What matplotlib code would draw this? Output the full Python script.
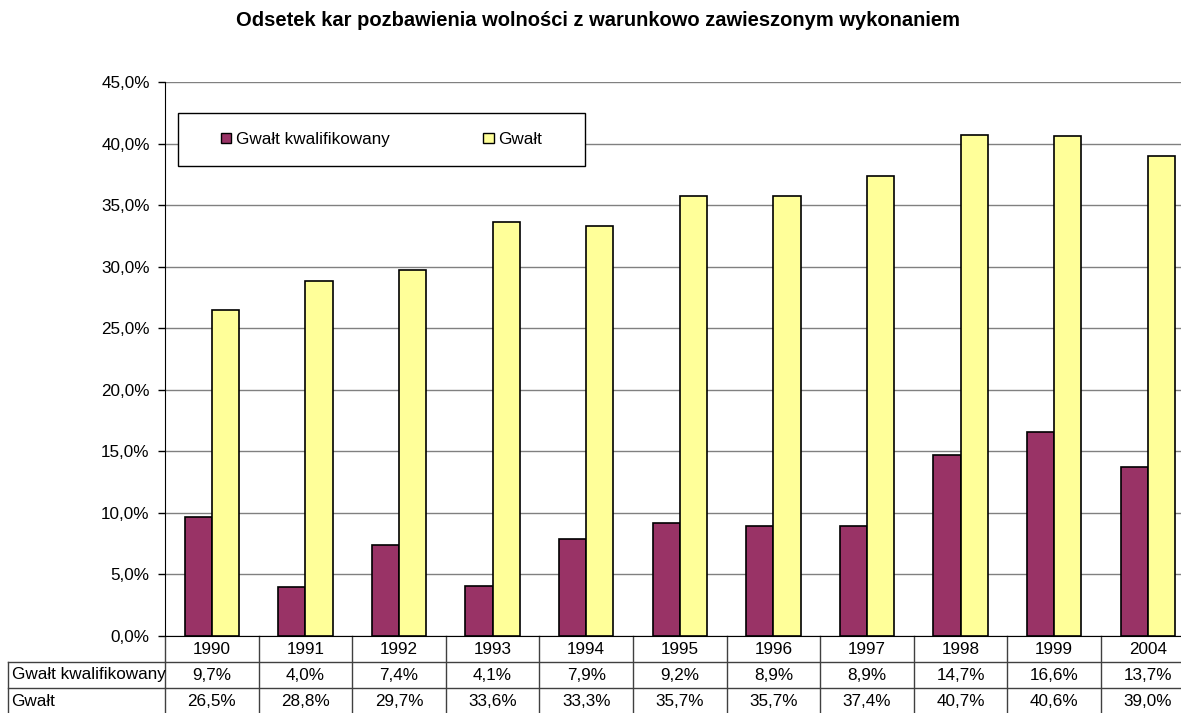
import matplotlib
matplotlib.use("Agg")
import matplotlib.pyplot as plt
import numpy as np
from matplotlib.transforms import blended_transform_factory
from matplotlib.lines import Line2D
from matplotlib.patches import Rectangle, Patch
from matplotlib.ticker import FuncFormatter, MultipleLocator

plt.rcParams['font.family'] = ['Liberation Sans', 'DejaVu Sans']

title = "Odsetek kar pozbawienia wolności z warunkowo zawieszonym wykonaniem"
years = ["1990", "1991", "1992", "1993", "1994", "1995", "1996", "1997", "1998", "1999", "2004"]
series_names = ["Gwałt kwalifikowany", "Gwałt"]
kwalifikowany = [9.7, 4.0, 7.4, 4.1, 7.9, 9.2, 8.9, 8.9, 14.7, 16.6, 13.7]
gwalt = [26.5, 28.8, 29.7, 33.6, 33.3, 35.7, 35.7, 37.4, 40.7, 40.6, 39.0]
colors = ["#993366", "#FFFF99"]

W, H = 1181, 713
fig = plt.figure(figsize=(W / 100, H / 100), dpi=100)

def fx(px):
    return px / W

def fy(py):
    return 1 - py / H

ax_left, ax_right, ax_top, ax_bot = 165, 1194.6, 82, 636
ax = fig.add_axes([fx(ax_left), fy(ax_bot), fx(ax_right - ax_left), (ax_bot - ax_top) / H])

x = np.arange(len(years))
bw = 0.29
ax.bar(x - bw / 2, kwalifikowany, width=bw, color=colors[0], edgecolor="black", linewidth=1.2, zorder=3)
ax.bar(x + bw / 2, gwalt, width=bw, color=colors[1], edgecolor="black", linewidth=1.2, zorder=3)

ax.set_xlim(-0.5, len(years) - 0.5)
ax.set_ylim(0, 45)
ax.yaxis.set_major_locator(MultipleLocator(5))
ax.yaxis.set_major_formatter(FuncFormatter(lambda v, p: f"{v:.1f}%".replace(".", ",")))
ax.grid(axis="y", color="#808080", linewidth=1, zorder=0)
ax.set_xticks([])
ax.tick_params(axis="y", direction="out", length=5, width=1, labelsize=12.3, pad=6)
for s in ["top", "right"]:
    ax.spines[s].set_visible(False)
ax.spines["left"].set_color("black")
ax.spines["bottom"].set_color("black")

# title
fig.text(fx(598), fy(21), title, ha="center", va="center", fontsize=14.5, fontweight="bold")

# legend with manual frame
lx0, lx1, ly0, ly1 = 178, 585, 113, 166
fig.add_artist(Rectangle((fx(lx0), fy(ly1)), fx(lx1 - lx0), (ly1 - ly0) / H,
                         transform=fig.transFigure, facecolor="white", edgecolor="black",
                         linewidth=1, zorder=5))
handles = [Patch(facecolor=c, edgecolor="black", linewidth=1) for c in colors]
leg = fig.legend(handles, series_names, loc="center", bbox_to_anchor=(fx((lx0 + lx1) / 2), fy((ly0 + ly1) / 2)),
                 ncol=2, frameon=False, fontsize=12.3, handlelength=0.6, handleheight=0.6,
                 handletextpad=0.25, columnspacing=5.5, borderpad=0)
leg.set_zorder(6)

# data table
trans = blended_transform_factory(ax.transData, fig.transFigure)
line_c = "#404040"
row_edges = [636, 662, 688, 714]
def hline(x0, x1, py, tr=trans):
    ax.add_line(Line2D([x0, x1], [fy(py), fy(py)], transform=tr, color=line_c, lw=1, clip_on=False))

for i in range(len(years) + 1):
    xb = i - 0.5
    ax.add_line(Line2D([xb, xb], [fy(636), fy(714)], transform=trans, color=line_c, lw=1, clip_on=False))
hline(-0.5, len(years) - 0.5, 662)
hline(-0.5, len(years) - 0.5, 688)
# row-label box
fig.add_artist(Line2D([fx(8), fx(165)], [fy(662), fy(662)], transform=fig.transFigure, color=line_c, lw=1))
fig.add_artist(Line2D([fx(8), fx(165)], [fy(688), fy(688)], transform=fig.transFigure, color=line_c, lw=1))
fig.add_artist(Line2D([fx(8), fx(8)], [fy(662), fy(714)], transform=fig.transFigure, color=line_c, lw=1))

def fmt(v):
    return f"{v:.1f}%".replace(".", ",")

rows = [years, [fmt(v) for v in kwalifikowany], [fmt(v) for v in gwalt]]
for r, vals in enumerate(rows):
    yc = (row_edges[r] + row_edges[r + 1]) / 2
    for i, t in enumerate(vals):
        ax.text(i, fy(yc), t, transform=trans, ha="center", va="center", fontsize=12.3, clip_on=False)
for r, name in enumerate(series_names):
    yc = (row_edges[r + 1] + row_edges[r + 2]) / 2
    fig.text(fx(11.5), fy(yc), name, ha="left", va="center", fontsize=12.3)

fig.savefig("out.png", dpi=100)
